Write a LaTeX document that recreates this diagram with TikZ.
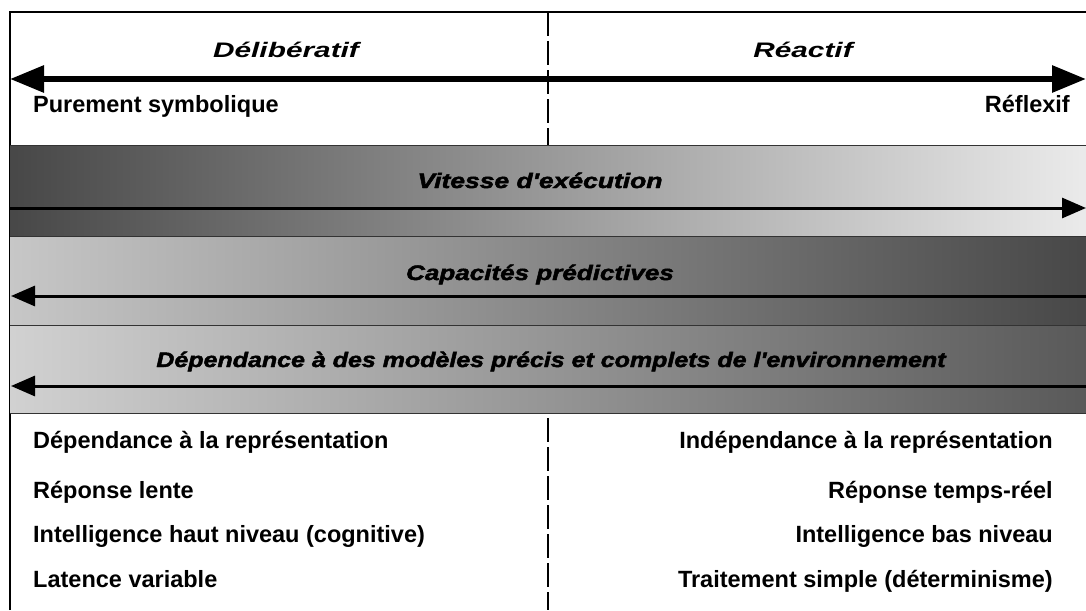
\documentclass[tikz,border=0pt]{standalone}
\usepackage{fontspec}
\usepackage{graphicx}
\setmainfont{Liberation Sans}
\newfontfamily\bandfont[BoldItalicFeatures={FakeBold=2}]{Liberation Sans}
\usetikzlibrary{arrows.meta}
\begin{document}
\begin{tikzpicture}[x=1pt,y=-1pt,
  title/.style={font=\fontsize{21}{25}\selectfont\bfseries\itshape, inner sep=0pt, anchor=base},
  sidetext/.style={font=\fontsize{23.5}{28}\selectfont\bfseries, inner sep=0pt},
  bandlabel/.style={font=\fontsize{21}{25}\selectfont\bandfont\bfseries\itshape, inner sep=0pt, anchor=base},
  frame/.style={line width=1.5pt, black},
  divider/.style={line width=1.3pt, black, dash pattern=on 24pt off 5pt},
  axisarrow/.style={line width=6pt, {Triangle[length=34pt,width=26pt]}-{Triangle[length=34pt,width=26pt]}},
  trendarrow/.style={line width=3pt, -{Triangle[length=24pt,width=20pt]}},
  bandedge/.style={line width=1pt, black!80},
]
\useasboundingbox (0,0) rectangle (1086,610);

% outer frame and centre divider
\coordinate (tl) at (10,12);
\coordinate (tr) at (1086,12);
\coordinate (bl) at (10,610);
\draw[frame] (bl) -- (tl) -- (tr);
\coordinate (dtop) at (548,12);
\coordinate (dbot) at (548,610);
\draw[divider] (dtop) -- (dbot);

% headings and main axis
\node[title] (delib) at (286,57) {\scalebox{1.42}[1]{Délibératif}};
\node[title] (react) at (803,57) {\scalebox{1.42}[1]{Réactif}};
\coordinate (axL) at (10,79);
\coordinate (axR) at (1086,79);
\draw[axisarrow] (axL) -- (axR);
\node[sidetext, anchor=base west] (symb) at (33,112) {Purement symbolique};
\node[sidetext, anchor=base east] (refl) at (1070,112) {Réflexif};

% shaded bands
\shade[left color=black!72, middle color=black!35, right color=black!8] (10,145) rectangle (1086,236);
\shade[left color=black!22, middle color=black!38, right color=black!72] (10,236) rectangle (1086,325);
\shade[left color=black!18, middle color=black!32, right color=black!65] (10,325) rectangle (1086,413);
\foreach \yy in {145,236,325,413} \draw[bandedge] (10,\yy) -- (1086,\yy);

% band labels and trend arrows
\node[bandlabel] (speed) at (540,188) {\scalebox{1.26}[1]{Vitesse d'exécution}};
\coordinate (s1) at (10,208);
\coordinate (s2) at (1086,208);
\draw[trendarrow] (s1) -- (s2);

\node[bandlabel] (pred) at (540,280) {\scalebox{1.24}[1]{Capacités prédictives}};
\coordinate (p1) at (1086,296);
\coordinate (p2) at (11,296);
\draw[trendarrow] (p1) -- (p2);

\node[bandlabel] (model) at (551,367) {\scalebox{1.19}[1]{Dépendance à des modèles précis et complets de l'environnement}};
\coordinate (m1) at (1086,386);
\coordinate (m2) at (11,386);
\draw[trendarrow] (m1) -- (m2);

% properties of each side
\node[sidetext, anchor=base west] (l1) at (33,448) {Dépendance à la représentation};
\node[sidetext, anchor=base west] (l2) at (33,498) {Réponse lente};
\node[sidetext, anchor=base west] (l3) at (33,542) {Intelligence haut niveau (cognitive)};
\node[sidetext, anchor=base west] (l4) at (33,587) {Latence variable};
\node[sidetext, anchor=base east] (r1) at (1053,448) {Indépendance à la représentation};
\node[sidetext, anchor=base east] (r2) at (1053,498) {Réponse temps-réel};
\node[sidetext, anchor=base east] (r3) at (1053,542) {Intelligence bas niveau};
\node[sidetext, anchor=base east] (r4) at (1053,587) {Traitement simple (déterminisme)};
\end{tikzpicture}
\end{document}
